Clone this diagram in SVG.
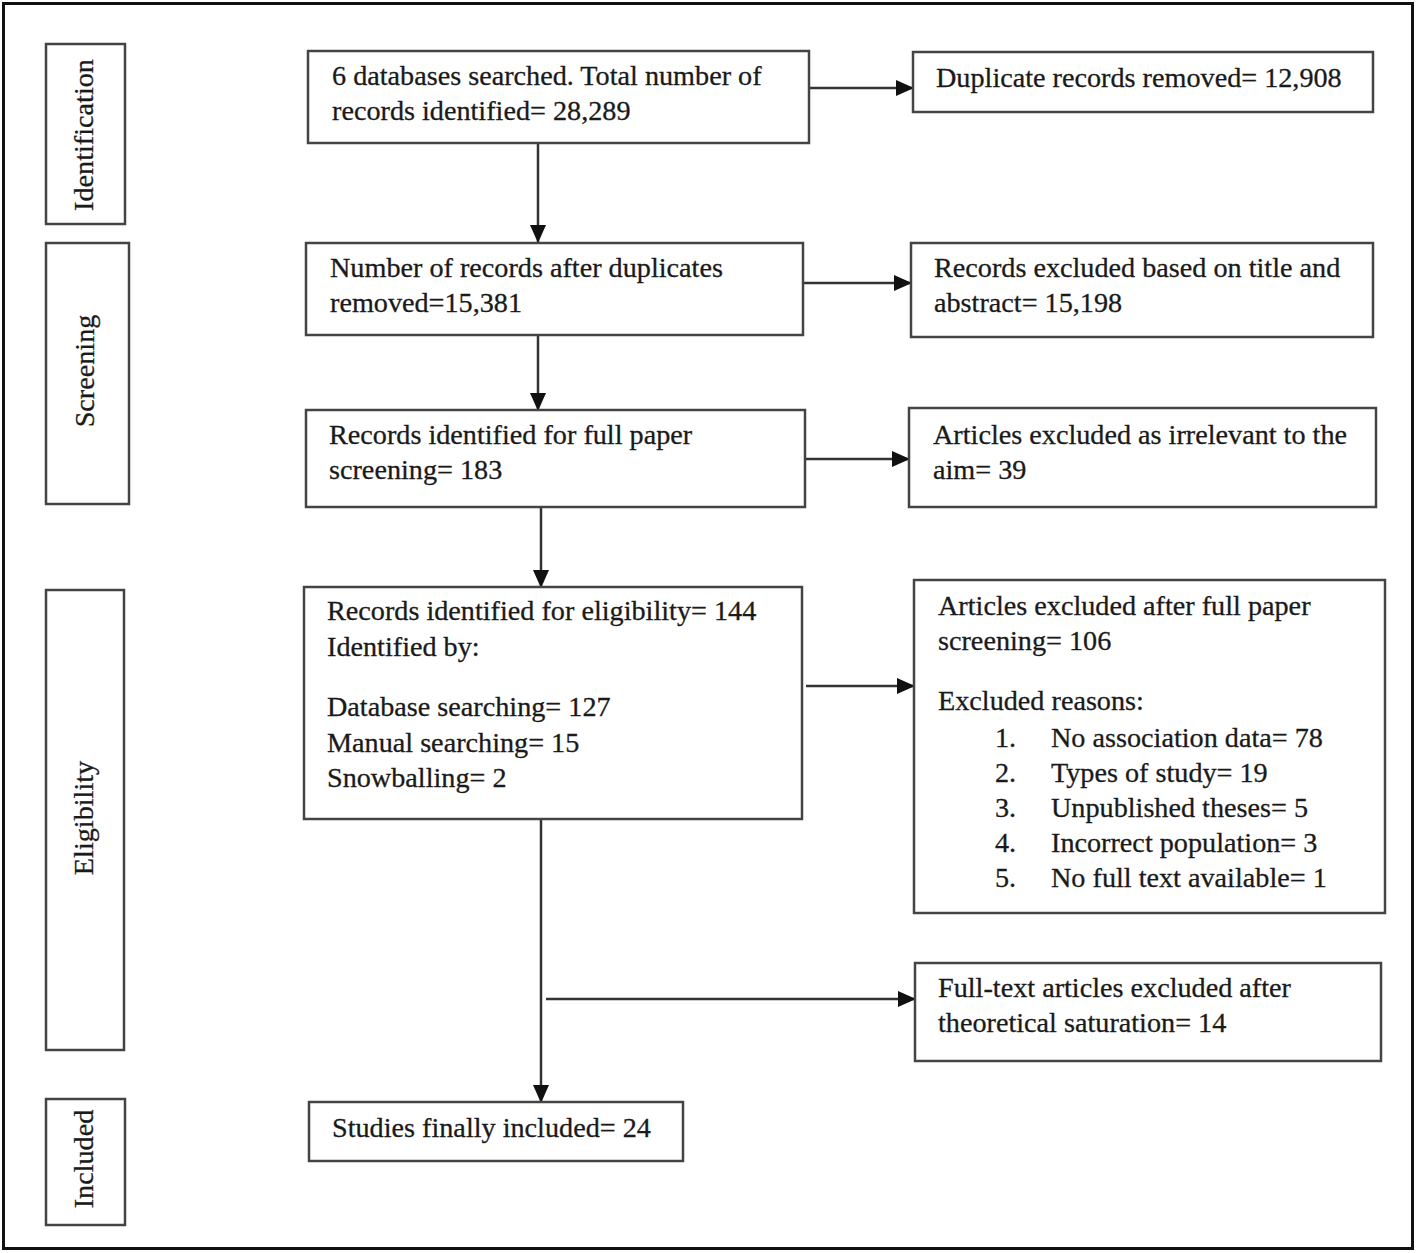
<svg xmlns="http://www.w3.org/2000/svg" width="1418" height="1253" viewBox="0 0 1418 1253">
<style>
text{font-family:"Liberation Serif","Times New Roman",serif;font-size:28.2px;fill:#1a1a1a;stroke:#1a1a1a;stroke-width:0.3}
.b{fill:#fff;stroke:#444;stroke-width:2.5}
.c{stroke:#333;stroke-width:2.5;fill:none}
.v{text-anchor:middle}
</style>
<defs>
<marker id="a" markerWidth="18" markerHeight="18" refX="17" refY="9" orient="auto" markerUnits="userSpaceOnUse" viewBox="0 0 18 18">
<path d="M0,1 L18,9 L0,17 z" fill="#111"/>
</marker>
</defs>
<rect x="0" y="0" width="1418" height="1253" fill="#fff"/>
<rect x="3.5" y="3.5" width="1409" height="1245" fill="none" stroke="#111" stroke-width="3"/>

<g id="phase-identification"><rect class="b" x="46" y="44" width="79" height="180"/><text class="v" transform="translate(93,135) rotate(-90)">Identification</text></g>
<g id="phase-screening"><rect class="b" x="46" y="243" width="83" height="261"/><text class="v" transform="translate(94,371) rotate(-90)">Screening</text></g>
<g id="phase-eligibility"><rect class="b" x="46" y="590" width="78" height="460"/><text class="v" transform="translate(93,818) rotate(-90)">Eligibility</text></g>
<g id="phase-included"><rect class="b" x="46" y="1099" width="79" height="126"/><text class="v" transform="translate(93,1159) rotate(-90)">Included</text></g>

<g id="connectors">
<line class="c" x1="538" y1="143" x2="538" y2="242" marker-end="url(#a)"/>
<line class="c" x1="809" y1="88" x2="913" y2="88" marker-end="url(#a)"/>
<line class="c" x1="538" y1="335" x2="538" y2="410" marker-end="url(#a)"/>
<line class="c" x1="803" y1="283" x2="911" y2="283" marker-end="url(#a)"/>
<line class="c" x1="805" y1="459" x2="909" y2="459" marker-end="url(#a)"/>
<line class="c" x1="541" y1="507" x2="541" y2="587" marker-end="url(#a)"/>
<line class="c" x1="806" y1="686" x2="914" y2="686" marker-end="url(#a)"/>
<line class="c" x1="541" y1="819" x2="541" y2="1102" marker-end="url(#a)"/>
<line class="c" x1="546" y1="999" x2="915" y2="999" marker-end="url(#a)"/>
</g>

<g id="n-search"><rect class="b" x="308" y="51" width="501" height="92"/><text x="332" y="85">6 databases searched. Total number of</text><text x="332" y="120">records identified= 28,289</text></g>
<g id="n-dup"><rect class="b" x="913" y="52" width="460" height="60"/><text x="936" y="87">Duplicate records removed= 12,908</text></g>
<g id="n-after-dup"><rect class="b" x="306" y="243" width="497" height="92"/><text x="330" y="277">Number of records after duplicates</text><text x="330" y="312">removed=15,381</text></g>
<g id="n-title-excl"><rect class="b" x="911" y="243" width="462" height="94"/><text x="934" y="277">Records excluded based on title and</text><text x="934" y="312">abstract= 15,198</text></g>
<g id="n-full-paper"><rect class="b" x="306" y="410" width="499" height="97"/><text x="329" y="444">Records identified for full paper</text><text x="329" y="479">screening= 183</text></g>
<g id="n-irrelevant"><rect class="b" x="909" y="408" width="467" height="99"/><text x="933" y="444">Articles excluded as irrelevant to the</text><text x="933" y="479">aim= 39</text></g>
<g id="n-eligibility"><rect class="b" x="304" y="587" width="498" height="232"/><text x="327" y="620">Records identified for eligibility= 144</text><text x="327" y="656">Identified by:</text><text x="327" y="716">Database searching= 127</text><text x="327" y="752">Manual searching= 15</text><text x="327" y="787">Snowballing= 2</text></g>
<g id="n-fp-excl"><rect class="b" x="914" y="580" width="471" height="333"/><text x="938" y="615">Articles excluded after full paper</text><text x="938" y="650">screening= 106</text><text x="938" y="710">Excluded reasons:</text>
<text x="995" y="747">1.</text><text x="1051" y="747">No association data= 78</text>
<text x="995" y="782">2.</text><text x="1051" y="782">Types of study= 19</text>
<text x="995" y="817">3.</text><text x="1051" y="817">Unpublished theses= 5</text>
<text x="995" y="852">4.</text><text x="1051" y="852">Incorrect population= 3</text>
<text x="995" y="887">5.</text><text x="1051" y="887">No full text available= 1</text></g>
<g id="n-saturation"><rect class="b" x="915" y="963" width="466" height="98"/><text x="938" y="997">Full-text articles excluded after</text><text x="938" y="1032">theoretical saturation= 14</text></g>
<g id="n-included"><rect class="b" x="309" y="1102" width="374" height="59"/><text x="332" y="1137">Studies finally included= 24</text></g>
</svg>
